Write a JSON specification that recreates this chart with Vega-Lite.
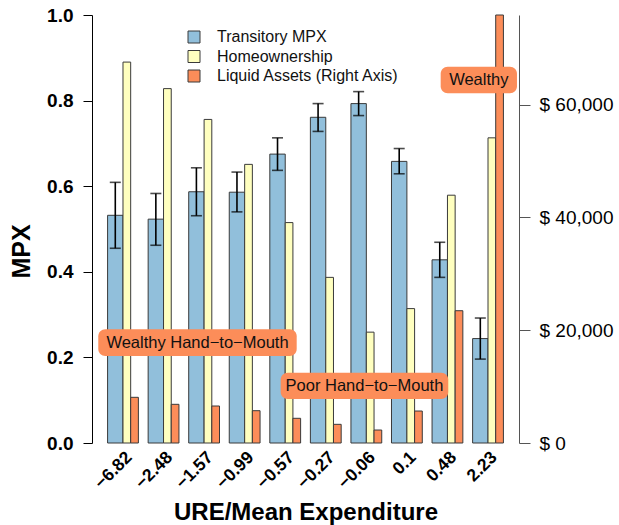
{
  "$schema": "https://vega.github.io/schema/vega-lite/v6.json",
  "width": 427,
  "height": 428,
  "autosize": {"type": "none"},
  "padding": {"left": 92, "top": 15, "right": 100, "bottom": 82},
  "background": "white",
  "config": {
    "view": {"stroke": null},
    "font": "Liberation Sans",
    "axis": {"grid": false}
  },
  "datasets": {
    "groups": [
      {"ure": "−6.82", "mpx": 0.532, "lo": 0.455, "hi": 0.609, "home": 0.890, "liquid": 8100},
      {"ure": "−2.48", "mpx": 0.523, "lo": 0.462, "hi": 0.583, "home": 0.828, "liquid": 6860},
      {"ure": "−1.57", "mpx": 0.587, "lo": 0.531, "hi": 0.643, "home": 0.756, "liquid": 6560},
      {"ure": "−0.99", "mpx": 0.586, "lo": 0.540, "hi": 0.633, "home": 0.651, "liquid": 5730},
      {"ure": "−0.57", "mpx": 0.675, "lo": 0.637, "hi": 0.713, "home": 0.515, "liquid": 4380},
      {"ure": "−0.27", "mpx": 0.761, "lo": 0.728, "hi": 0.793, "home": 0.387, "liquid": 3310},
      {"ure": "−0.06", "mpx": 0.793, "lo": 0.765, "hi": 0.821, "home": 0.259, "liquid": 2300},
      {"ure": "0.1", "mpx": 0.658, "lo": 0.629, "hi": 0.688, "home": 0.314, "liquid": 5670},
      {"ure": "0.48", "mpx": 0.428, "lo": 0.387, "hi": 0.469, "home": 0.579, "liquid": 23460},
      {"ure": "2.23", "mpx": 0.244, "lo": 0.196, "hi": 0.292, "home": 0.713, "liquid": 75900}
    ],
    "notes": [
      {"label": "Wealthy Hand−to−Mouth", "from": 0.391, "to": 5.283, "low": 0.2033, "high": 0.2657, "cx": 2.837, "cy": 0.2345},
      {"label": "Poor Hand−to−Mouth", "from": 4.888, "to": 9.020, "low": 0.1028, "high": 0.1643, "cx": 6.954, "cy": 0.1336},
      {"label": "Wealthy", "from": 8.833, "to": 10.714, "low": 0.8171, "high": 0.8792, "cx": 9.773, "cy": 0.8481}
    ]
  },
  "layer": [
    {
      "data": {"name": "groups"},
      "encoding": {
        "x": {
          "field": "ure",
          "type": "nominal",
          "sort": null,
          "scale": {"type": "band", "paddingInner": 0, "paddingOuter": 0.264},
          "axis": {
            "domain": false,
            "ticks": false,
            "labelAngle": -45,
            "labelAlign": "right",
            "labelBaseline": "top",
            "labelPadding": 5,
            "labelFontSize": 17.5,
            "labelFontWeight": "bold",
            "labelColor": "black",
            "title": "URE/Mean Expenditure",
            "titleFontSize": 24,
            "titleFontWeight": "bold",
            "titleColor": "black",
            "titleY": 76,
            "titleBaseline": "alphabetic"
          }
        }
      },
      "layer": [
        {
          "mark": {"type": "bar", "width": 15.4, "xOffset": -7.7, "stroke": "#3a3a3a", "strokeWidth": 1},
          "encoding": {
            "y": {
              "field": "mpx",
              "type": "quantitative",
              "scale": {"domain": [0, 1], "nice": false},
              "axis": {
                "orient": "left",
                "values": [0, 0.2, 0.4, 0.6, 0.8, 1],
                "format": ".1f",
                "labelFontSize": 19,
                "labelFontWeight": "bold",
                "labelColor": "black",
                "labelPadding": 10,
                "tickSize": 9,
                "tickColor": "black",
                "domainColor": "black",
                "title": "MPX",
                "titleFontSize": 25,
                "titleFontWeight": "bold",
                "titleColor": "black",
                "titleAngle": -90,
                "titleAlign": "center",
                "titleBaseline": "alphabetic",
                "titleX": -63,
                "titleY": 236
              }
            },
            "fill": {
              "datum": "Transitory MPX",
              "type": "nominal",
              "scale": {
                "domain": ["Transitory MPX", "Homeownership", "Liquid Assets (Right Axis)"],
                "range": ["#91bfdb", "#ffffbf", "#fc8d59"]
              },
              "legend": {
                "title": null,
                "orient": "none",
                "legendX": 94,
                "legendY": 14,
                "padding": 0,
                "symbolType": "square",
                "symbolSize": 144,
                "symbolStrokeColor": "#333",
                "symbolStrokeWidth": 1,
                "labelFontSize": 16,
                "labelColor": "#111",
                "labelOffset": 15,
                "labelLimit": 0,
                "rowPadding": 3.5
              }
            }
          }
        },
        {
          "mark": {"type": "bar", "width": 7.7, "xOffset": 3.85, "stroke": "#3a3a3a", "strokeWidth": 1},
          "encoding": {
            "y": {"field": "home", "type": "quantitative"},
            "fill": {"datum": "Homeownership", "type": "nominal"}
          }
        },
        {
          "mark": {"type": "rule", "xOffset": -7.7, "strokeWidth": 1.6, "color": "black"},
          "encoding": {
            "y": {"field": "lo", "type": "quantitative"},
            "y2": {"field": "hi"}
          }
        },
        {
          "mark": {"type": "tick", "orient": "horizontal", "size": 11, "thickness": 1.6, "xOffset": -7.7, "color": "black"},
          "encoding": {"y": {"field": "lo", "type": "quantitative"}}
        },
        {
          "mark": {"type": "tick", "orient": "horizontal", "size": 11, "thickness": 1.6, "xOffset": -7.7, "color": "black"},
          "encoding": {"y": {"field": "hi", "type": "quantitative"}}
        }
      ]
    },
    {
      "data": {"name": "groups"},
      "mark": {"type": "bar", "width": 7.7, "xOffset": 11.55, "stroke": "#3a3a3a", "strokeWidth": 1},
      "encoding": {
        "x": {
          "field": "ure",
          "type": "nominal",
          "sort": null,
          "scale": {"type": "band", "paddingInner": 0, "paddingOuter": 0.264},
          "axis": null
        },
        "y": {
          "field": "liquid",
          "type": "quantitative",
          "scale": {"domain": [0, 75900], "nice": false},
          "axis": {
            "orient": "right",
            "values": [0, 20000, 40000, 60000],
            "labelExpr": "'$ ' + format(datum.value, ',')",
            "labelFontSize": 19,
            "labelColor": "black",
            "labelPadding": 9,
            "tickSize": 11,
            "tickColor": "#555",
            "domainColor": "#555",
            "title": null
          }
        },
        "fill": {"datum": "Liquid Assets (Right Axis)", "type": "nominal"}
      }
    },
    {
      "data": {"name": "notes"},
      "layer": [
        {
          "mark": {"type": "rect", "cornerRadius": 7, "fill": "#fc8d59"},
          "encoding": {
            "x": {"field": "from", "type": "quantitative", "scale": {"domain": [0.236, 10.764], "nice": false, "zero": false}, "axis": null},
            "x2": {"field": "to"},
            "y": {"field": "low", "type": "quantitative", "scale": {"domain": [0, 1], "nice": false}, "axis": null},
            "y2": {"field": "high"}
          }
        },
        {
          "mark": {"type": "text", "fontSize": 16.5, "color": "#111", "align": "center", "baseline": "middle"},
          "encoding": {
            "x": {"field": "cx", "type": "quantitative"},
            "y": {"field": "cy", "type": "quantitative"},
            "text": {"field": "label"}
          }
        }
      ]
    }
  ],
  "resolve": {"scale": {"x": "independent", "y": "independent"}}
}
